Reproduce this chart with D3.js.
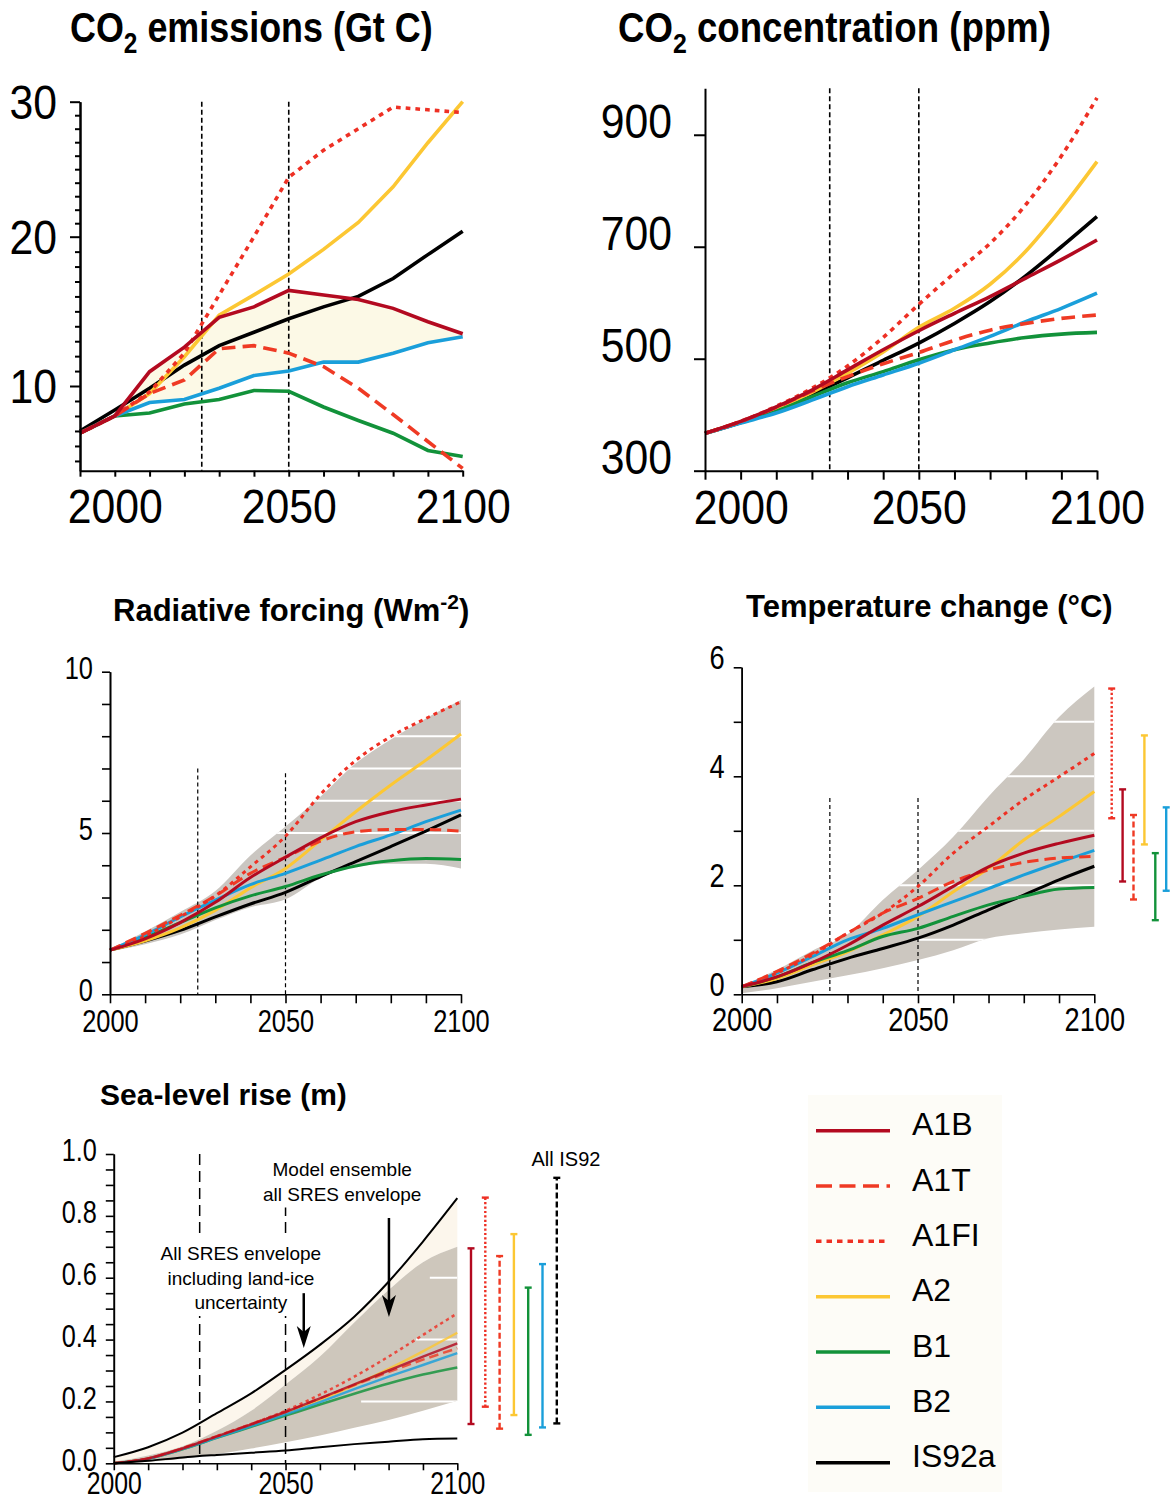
<!DOCTYPE html>
<html>
<head>
<meta charset="utf-8">
<script src="https://cdn.jsdelivr.net/npm/d3@7"></script>
<style>
  body { margin: 0; background: #fff; }
  svg text { font-family: "Liberation Sans", Arial, sans-serif; }
</style>
</head>
<body>
<div id="fig"></div>
<script>

/* ---- data ---- */

const scenarios = ["A1B", "A1T", "A1FI", "A2", "B1", "B2", "IS92a"];

// CO2 emissions (Gt C), one row per scenario in the order above
const emisYears = [1990, 2000, 2010, 2020, 2030, 2040, 2050, 2060, 2070, 2080, 2090, 2100];
const emisValues = [
  [6.85, 8.0, 10.96, 12.6, 14.6, 15.3, 16.4, 16.1, 15.8, 15.2, 14.3, 13.5],
  [6.85, 8.0, 9.5, 10.4, 12.5, 12.7, 12.2, 11.3, 9.85, 8.1, 6.3, 4.5],
  [6.85, 8.0, 9.6, 12.2, 16.1, 20.0, 24.4, 26.4, 28.0, 29.6, 29.4, 29.2],
  [6.85, 8.0, 9.5, 11.96, 14.75, 16.1, 17.5, 19.15, 21.06, 23.7, 26.96, 30.0],
  [6.85, 8.0, 8.2, 8.8, 9.1, 9.7, 9.65, 8.6, 7.7, 6.85, 5.7, 5.3],
  [6.85, 8.0, 8.9, 9.1, 9.85, 10.7, 11.0, 11.6, 11.6, 12.2, 12.9, 13.3],
  [7.0, 8.4, 9.85, 11.4, 12.7, 13.6, 14.5, 15.3, 16.0, 17.2, 18.8, 20.4]
];

// CO2 concentration (ppm)
const concYears = [1990, 2000, 2010, 2020, 2030, 2040, 2050, 2060, 2070, 2080, 2090, 2100];
const concValues = [
  [366.7, 388, 414, 444, 480, 516, 550, 581, 611, 644, 677, 712],
  [366.7, 388, 413, 442, 468, 491, 511, 533, 551, 563, 572, 578],
  [366.7, 388, 415, 447, 487, 538, 597, 653, 706, 775, 862, 966],
  [366.7, 387, 411, 440, 474, 512, 556, 590, 633, 692, 768, 852],
  [366.7, 386, 406, 432, 457, 477, 498, 516, 528, 538, 544, 547],
  [366.7, 385, 403, 426, 450, 471, 492, 516, 540, 566, 590, 617],
  [366.7, 386, 410, 437, 466, 497, 528, 563, 602, 648, 700, 754]
];

// Radiative forcing (W m-2)
const rfYears = [2000, 2010, 2020, 2030, 2040, 2050, 2060, 2070, 2080, 2090, 2100];
const rfValues = [
  [1.37, 1.72, 2.22, 2.85, 3.62, 4.25, 4.85, 5.35, 5.66, 5.87, 6.05],
  [1.37, 1.89, 2.45, 3.05, 3.75, 4.25, 4.75, 5.04, 5.11, 5.11, 5.06],
  [1.37, 1.80, 2.40, 3.05, 3.95, 4.90, 6.20, 7.25, 7.99, 8.55, 9.07],
  [1.37, 1.66, 2.06, 2.60, 3.30, 3.90, 4.78, 5.66, 6.49, 7.26, 8.07],
  [1.37, 1.76, 2.22, 2.68, 3.05, 3.34, 3.70, 3.98, 4.14, 4.21, 4.18],
  [1.37, 1.84, 2.40, 2.92, 3.40, 3.75, 4.16, 4.58, 4.94, 5.35, 5.71],
  [1.37, 1.65, 1.98, 2.40, 2.80, 3.16, 3.65, 4.11, 4.58, 5.06, 5.56]
];
const rfEnvHigh = [1.40, 1.95, 2.55, 3.20, 4.30, 5.20, 6.13, 7.16, 7.90, 8.55, 9.12];
const rfEnvLow  = [1.33, 1.55, 1.85, 2.30, 2.70, 2.95, 3.60, 3.95, 4.05, 4.05, 3.90];

// Temperature change (deg C)
const tempYears = [2000, 2010, 2020, 2030, 2040, 2050, 2060, 2070, 2080, 2090, 2100];
const tempValues = [
  [0.14, 0.32, 0.58, 0.90, 1.27, 1.61, 1.98, 2.34, 2.59, 2.77, 2.92],
  [0.14, 0.42, 0.75, 1.12, 1.49, 1.76, 2.07, 2.28, 2.42, 2.50, 2.53],
  [0.14, 0.39, 0.72, 1.12, 1.49, 1.98, 2.59, 3.08, 3.57, 3.99, 4.42],
  [0.14, 0.29, 0.54, 0.78, 1.09, 1.43, 1.88, 2.31, 2.83, 3.26, 3.72],
  [0.14, 0.32, 0.58, 0.80, 1.06, 1.21, 1.43, 1.64, 1.80, 1.93, 1.96],
  [0.14, 0.39, 0.69, 1.00, 1.21, 1.46, 1.70, 1.94, 2.19, 2.42, 2.64],
  [0.14, 0.23, 0.45, 0.66, 0.84, 1.03, 1.27, 1.55, 1.82, 2.10, 2.35]
];
const tempEnvHigh = [0.16, 0.45, 0.80, 1.10, 1.73, 2.28, 2.89, 3.63, 4.31, 5.09, 5.65];
const tempEnvLow  = [0.02, 0.11, 0.23, 0.35, 0.48, 0.63, 0.81, 1.03, 1.12, 1.19, 1.24];
// 2100 ranges shown as bars right of the panel
const tempBarScen = ["A1FI", "A1B", "A1T", "A2", "B1", "B2"];
const tempBarLow  = [3.23, 2.07, 1.74, 2.75, 1.36, 1.90];
const tempBarHigh = [5.61, 3.76, 3.29, 4.75, 2.59, 3.43];

// Sea-level rise (m)
const seaYears = [2000, 2010, 2020, 2030, 2040, 2050, 2060, 2070, 2080, 2090, 2100];
const seaValues = [
  [0, 0.016, 0.048, 0.087, 0.126, 0.166, 0.210, 0.255, 0.300, 0.345, 0.388],
  [0, 0.016, 0.049, 0.088, 0.127, 0.167, 0.210, 0.253, 0.295, 0.335, 0.372],
  [0, 0.016, 0.048, 0.087, 0.127, 0.170, 0.222, 0.280, 0.345, 0.415, 0.485],
  [0, 0.015, 0.046, 0.085, 0.123, 0.163, 0.205, 0.252, 0.305, 0.362, 0.422],
  [0, 0.015, 0.045, 0.082, 0.118, 0.154, 0.190, 0.225, 0.258, 0.287, 0.310],
  [0, 0.015, 0.046, 0.083, 0.120, 0.158, 0.198, 0.240, 0.280, 0.318, 0.356]
];
const seaIceHigh = [0.020, 0.052, 0.099, 0.162, 0.226, 0.302, 0.383, 0.474, 0.587, 0.717, 0.857];
const seaIceLow  = [0.000, 0.008, 0.019, 0.027, 0.034, 0.041, 0.052, 0.062, 0.070, 0.078, 0.080];
const seaEnvHigh = [0.005, 0.025, 0.055, 0.105, 0.170, 0.255, 0.345, 0.455, 0.560, 0.650, 0.700];
const seaEnvLow  = [0.000, 0.005, 0.015, 0.030, 0.048, 0.068, 0.090, 0.115, 0.140, 0.170, 0.202];
const seaBarScen = ["A1B", "A1FI", "A1T", "A2", "B1", "B2", "IS92a"];
const seaBarLow  = [0.127, 0.183, 0.112, 0.156, 0.092, 0.116, 0.129];
const seaBarHigh = [0.695, 0.859, 0.670, 0.741, 0.568, 0.644, 0.923];


/* ---- styles ---- */

const colour = { A1B: "#b30a20", A1T: "#ef3a24", A1FI: "#ee3024", A2: "#fcc733",
                 B1: "#12923a", B2: "#1a9fda", IS92a: "#000000" };
const lineKind = { A1T: "dash", A1FI: "dot" };
const drawOrder = ["IS92a", "A2", "B1", "B2", "A1T", "A1FI", "A1B"];

function dashFor(key, w){
  if (lineKind[key] === "dash") return `${w*3.8},${w*2}`;
  if (lineKind[key] === "dot")  return `${w*1.3},${w*1.4}`;
  return null;
}

const svg = d3.select("#fig").append("svg")
    .attr("width", 1171)
    .attr("height", 1502);


/* ---- helpers ---- */

function styleAxis(sel, st){
  sel.attr("font-size", st.fs).attr("font-family", '"Liberation Sans", Arial, sans-serif');
  sel.select(".domain").attr("stroke", "#000").attr("stroke-width", st.sw);
  sel.selectAll(".tick line").attr("stroke", "#000").attr("stroke-width", st.sw);
  sel.selectAll("text").attr("fill", "#000");
}

// left axis: minor ticks without labels + major ticks with labels
function yAxis(g, y, left, majors, minors, st){
  if (minors){
    g.append("g").attr("transform", `translate(${left},0)`)
      .call(d3.axisLeft(y).tickValues(minors).tickSize(st.minor).tickSizeOuter(0).tickFormat(""))
      .call(styleAxis, st);
  }
  g.append("g").attr("transform", `translate(${left},0)`)
    .call(d3.axisLeft(y).tickValues(majors).tickSize(st.major).tickSizeOuter(0)
      .tickPadding(st.off / st.sx - st.major).tickFormat(st.fmt || (d => d)))
    .call(styleAxis, st)
    .selectAll("text")
      .attr("transform", `scale(${st.sx},1)`)
      .attr("dy", (0.34 * st.fs + (st.shift || 0)) + "px");
}

function xAxis(g, x, base, ticks, labels, st){
  g.append("g").attr("transform", `translate(0,${base})`)
    .call(d3.axisBottom(x).tickValues(ticks).tickSize(st.size).tickSizeOuter(0)
      .tickPadding(st.pad).tickFormat(d => labels.includes(d) ? d : ""))
    .call(styleAxis, st)
    .selectAll("text").attr("transform", `scale(${st.sx},1)`);
}

function drawSeries(g, x, y, years, values, keys, w, curve, opacity){
  const line = d3.line().x((d, i) => x(years[i])).y(d => y(d)).curve(curve);
  drawOrder.filter(k => keys.includes(k)).forEach(k => {
    g.append("path")
      .attr("d", line(values[keys.indexOf(k)]))
      .attr("fill", "none")
      .attr("stroke", colour[k])
      .attr("stroke-opacity", opacity || 1)
      .attr("stroke-width", w)
      .attr("stroke-dasharray", dashFor(k, w));
  });
}

function guides(g, x, y, years, top, bottom, w, dash){
  years.forEach(yr => {
    g.append("line")
      .attr("x1", x(yr)).attr("x2", x(yr))
      .attr("y1", y(top)).attr("y2", y(bottom))
      .attr("stroke", "#000").attr("stroke-width", w)
      .attr("stroke-dasharray", dash);
  });
}

function envelope(g, x, y, years, lo, hi, fill, id, whiteLines){
  const area = d3.area().x((d, i) => x(years[i])).y0((d, i) => y(lo[i])).y1(d => y(d))
      .curve(d3.curveMonotoneX);
  g.append("path").attr("d", area(hi)).attr("fill", fill);
  if (whiteLines){
    g.append("clipPath").attr("id", id).append("path").attr("d", area(hi));
    whiteLines.forEach(([v, a, b]) => {
      g.append("line")
        .attr("clip-path", `url(#${id})`)
        .attr("x1", x(a)).attr("x2", x(b))
        .attr("y1", y(v)).attr("y2", y(v))
        .attr("stroke", "#fff").attr("stroke-width", 2);
    });
  }
}

function rangeBars(g, x, y, keys, lo, hi, x0, step, cap, w){
  keys.forEach((k, i) => {
    const bx = x0 + i * step;
    const kind = k === "IS92a" ? "dash" : lineKind[k];
    const dash = kind === "dash" ? "6,3" : kind === "dot" ? "2.2,2.2" : null;
    g.append("line").attr("x1", bx).attr("x2", bx)
      .attr("y1", y(lo[i])).attr("y2", y(hi[i]))
      .attr("stroke", colour[k]).attr("stroke-width", w).attr("stroke-dasharray", dash);
    [lo[i], hi[i]].forEach(v => {
      g.append("line").attr("x1", bx - cap).attr("x2", bx + cap)
        .attr("y1", y(v)).attr("y2", y(v))
        .attr("stroke", colour[k]).attr("stroke-width", w);
    });
  });
}

// bold title, optional sub/superscript pieces: [text, "sub"|"sup"|null]
function title(x, y, parts, fs, sx){
  const t = svg.append("text")
    .attr("transform", `translate(${x},${y}) scale(${sx},1)`)
    .attr("font-size", fs).attr("font-weight", "bold").attr("fill", "#000");
  let shift = 0;
  parts.forEach(([s, kind]) => {
    const want = kind === "sub" ? 0.27 * fs : kind === "sup" ? -0.38 * fs : 0;
    t.append("tspan")
      .attr("dy", want - shift)
      .attr("font-size", kind ? fs * 0.68 : fs)
      .text(s);
    shift = want;
  });
}


/* ---- panel 1: CO2 emissions ---- */
{
  const g = svg.append("g");
  const x = d3.scaleLinear().domain([1990, 2100]).range([80, 462.7]);
  const y = d3.scaleLinear().domain([4.35, 10, 20, 30]).range([470.7, 386, 236.7, 101.7]);

  // cream band between A1B and B2
  const band = d3.area().x((d, i) => x(emisYears[i]))
      .y0((d, i) => y(emisValues[5][i])).y1(d => y(d));
  g.append("path").attr("d", band(emisValues[0])).attr("fill", "#fcf9e6");

  guides(g, x, y, [2025, 2050], 30, 4.35, 1.6, "5,3");
  drawSeries(g, x, y, emisYears, emisValues, scenarios, 3.6, d3.curveLinear);

  const st = { fs: 48, sx: 0.89, sw: 2, major: 10, minor: 5, off: 23 };
  yAxis(g, y, 80, [10, 20, 30],
        [5,6,7,8,9,11,12,13,14,15,16,17,18,19,21,22,23,24,25,26,27,28,29], st);
  xAxis(g, x, 470.7, [1990,2000,2010,2020,2030,2040,2050,2060,2070,2080,2090,2100],
        [2000, 2050, 2100], { fs: 48, sx: 0.89, sw: 2, size: 6, pad: 12 });

  title(70, 42, [["CO"], ["2", "sub"], [" emissions (Gt C)"]], 42, 0.855);
}

/* ---- panel 2: CO2 concentration ---- */
{
  const g = svg.append("g");
  const x = d3.scaleLinear().domain([1990, 2100]).range([705, 1097]);
  const y = d3.scaleLinear().domain([300, 983]).range([470.7, 88.3]);

  guides(g, x, y, [2025, 2050], 983, 300, 1.6, "5,3");
  drawSeries(g, x, y, concYears, concValues, scenarios, 3.6, d3.curveMonotoneX);

  yAxis(g, y, 705, [300, 500, 700, 900], null,
        { fs: 48, sx: 0.89, sw: 2, major: 11, off: 33, shift: -14 });
  xAxis(g, x, 470.7, [1990,2000,2010,2020,2030,2040,2050,2060,2070,2080,2090,2100],
        [2000, 2050, 2100], { fs: 48, sx: 0.89, sw: 2, size: 9, pad: 10 });

  title(618, 42, [["CO"], ["2", "sub"], [" concentration (ppm)"]], 42, 0.872);
}

/* ---- panel 3: radiative forcing ---- */
{
  const g = svg.append("g");
  const x = d3.scaleLinear().domain([2000, 2100]).range([110, 461]);
  const y = d3.scaleLinear().domain([0, 10]).range([994.3, 671.7]);

  envelope(g, x, y, rfYears, rfEnvLow, rfEnvHigh, "#cac6c1", "clipRf",
           [[5, 2047, 2100], [6, 2050, 2100], [7, 2050, 2100], [8, 2050, 2100]]);
  g.append("line").attr("x1", x(2025)).attr("x2", x(2025)).attr("y1", y(7.0)).attr("y2", y(0))
    .attr("stroke", "#000").attr("stroke-width", 1.2).attr("stroke-dasharray", "4,3");
  g.append("line").attr("x1", x(2050)).attr("x2", x(2050)).attr("y1", y(6.85)).attr("y2", y(0))
    .attr("stroke", "#000").attr("stroke-width", 1.2).attr("stroke-dasharray", "4,3");
  drawSeries(g, x, y, rfYears, rfValues, scenarios, 3, d3.curveMonotoneX);

  yAxis(g, y, 110, [0, 5, 10], [1,2,3,4,6,7,8,9],
        { fs: 31, sx: 0.82, sw: 1.6, major: 8, minor: 8, off: 17, shift: -4 });
  xAxis(g, x, 994.3, [2000,2010,2020,2030,2040,2050,2060,2070,2080,2090,2100],
        [2000, 2050, 2100], { fs: 31, sx: 0.82, sw: 1.6, size: 9, pad: 7 });

  title(113, 621, [["Radiative forcing (Wm"], ["-2", "sup"], [")"]], 31, 1);
}

/* ---- panel 4: temperature change ---- */
{
  const g = svg.append("g");
  const x = d3.scaleLinear().domain([2000, 2100]).range([741.7, 1094.3]);
  const y = d3.scaleLinear().domain([0, 6]).range([994.3, 667.3]);

  envelope(g, x, y, tempYears, tempEnvLow, tempEnvHigh, "#ccc7c0", "clipTemp",
           [[1, 2050, 2070], [2, 2040, 2100], [3, 2050, 2100], [4, 2060, 2100], [5, 2080, 2100]]);
  guides(g, x, y, [2025, 2050], 3.6, 0, 1.2, "4,3");
  drawSeries(g, x, y, tempYears, tempValues, scenarios, 3, d3.curveMonotoneX);
  rangeBars(g, x, y, tempBarScen, tempBarLow, tempBarHigh, x(2100) + 17.4, 10.9, 3.5, 2.4);

  yAxis(g, y, 741.7, [0, 2, 4, 6], [1, 3, 5],
        { fs: 34, sx: 0.8, sw: 1.6, major: 8, minor: 8, off: 17, shift: -10 });
  xAxis(g, x, 994.3, [2000,2010,2020,2030,2040,2050,2060,2070,2080,2090,2100],
        [2000, 2050, 2100], { fs: 34, sx: 0.8, sw: 1.6, size: 9, pad: 4 });

  title(746, 617, [["Temperature change (°C)"]], 31, 1);
}

/* ---- panel 5: sea-level rise ---- */
{
  const g = svg.append("g");
  const x = d3.scaleLinear().domain([2000, 2100]).range([113.8, 457.3]);
  const y = d3.scaleLinear().domain([0, 1]).range([1463.3, 1154]);

  // land-ice band, model-ensemble envelope
  envelope(g, x, y, seaYears, seaEnvHigh, seaIceHigh, "#fcf6ec", "clipIce", null);
  envelope(g, x, y, seaYears, seaEnvLow, seaEnvHigh, "#cec7bc", "clipSea",
           [[0.2, 2072, 2100], [0.4, 2088, 2100], [0.6, 2092, 2100]]);
  guides(g, x, y, [2025, 2050], 1, 0, 1.5, "11,6");

  drawSeries(g, x, y, seaYears, seaValues, scenarios.slice(0, 6), 2.5, d3.curveMonotoneX, 0.82);
  const edge = d3.line().x((d, i) => x(seaYears[i])).y(d => y(d)).curve(d3.curveMonotoneX);
  [seaIceHigh, seaIceLow].forEach(s => {
    g.append("path").attr("d", edge(s)).attr("fill", "none")
      .attr("stroke", "#000").attr("stroke-width", 2);
  });
  rangeBars(g, x, y, seaBarScen, seaBarLow, seaBarHigh, x(2100) + 13.7, 14.3, 3.5, 2.4);

  // annotations
  function note(cx, lines, base, gap){
    const t = g.append("g");
    lines.forEach((s, i) => {
      t.append("text").attr("x", cx).attr("y", base + i * gap)
        .attr("text-anchor", "middle").attr("font-size", 19).attr("fill", "#000").text(s);
    });
    const b = t.node().getBBox();
    t.insert("rect", "text").attr("x", b.x - 2).attr("y", b.y - 6)
      .attr("width", b.width + 4).attr("height", b.height + 9).attr("fill", "#fff");
  }
  note(x(2066.5), ["Model ensemble", "all SRES envelope"], 1175.5, 25);
  note(x(2037), ["All SRES envelope", "including land-ice", "uncertainty"], 1260, 24.5);
  g.append("text").attr("x", 566).attr("y", 1166).attr("text-anchor", "middle")
    .attr("font-size", 20).attr("fill", "#000").text("All IS92");

  function arrow(yr, from, to){
    const ax = x(yr), y1 = y(from), y2 = y(to);
    g.append("line").attr("x1", ax).attr("x2", ax).attr("y1", y1).attr("y2", y2 - 12)
      .attr("stroke", "#000").attr("stroke-width", 2.5);
    g.append("path")
      .attr("d", `M${ax},${y2} L${ax - 7},${y2 - 22} L${ax},${y2 - 16} L${ax + 7},${y2 - 22} Z`)
      .attr("fill", "#000");
  }
  arrow(2055.3, 0.55, 0.373);
  arrow(2080.1, 0.793, 0.473);

  yAxis(g, y, 113.8, [0, 0.2, 0.4, 0.6, 0.8, 1.0],
        [0.05,0.1,0.15,0.25,0.3,0.35,0.45,0.5,0.55,0.65,0.7,0.75,0.85,0.9,0.95],
        { fs: 32, sx: 0.79, sw: 1.6, major: 8, minor: 8, off: 17, shift: -4,
          fmt: d3.format(".1f") });
  xAxis(g, x, 1463.3, [2000,2010,2020,2030,2040,2050,2060,2070,2080,2090,2100],
        [2000, 2050, 2100], { fs: 31, sx: 0.8, sw: 1.6, size: 7, pad: 2 });

  title(100, 1105, [["Sea-level rise (m)"]], 30, 1);
}

/* ---- legend ---- */
{
  const g = svg.append("g");
  g.append("rect").attr("x", 808).attr("y", 1095).attr("width", 194).attr("height", 397)
    .attr("fill", "#fdfcf7");
  const row = d3.scaleLinear().domain([0, scenarios.length - 1]).range([1130.7, 1462.7]);
  scenarios.forEach((k, i) => {
    const w = 3.5;
    g.append("line").attr("x1", 816).attr("x2", lineKind[k] === "dot" ? 886 : 890)
      .attr("y1", row(i)).attr("y2", row(i))
      .attr("stroke", colour[k]).attr("stroke-width", w)
      .attr("stroke-dasharray", lineKind[k] === "dash" ? "16,7.5" : lineKind[k] === "dot" ? "5.5,5" : null);
    g.append("text").attr("x", 912).attr("y", row(i) + 4.5)
      .attr("font-size", 32).attr("fill", "#000").text(k);
  });
}

</script>
</body>
</html>
